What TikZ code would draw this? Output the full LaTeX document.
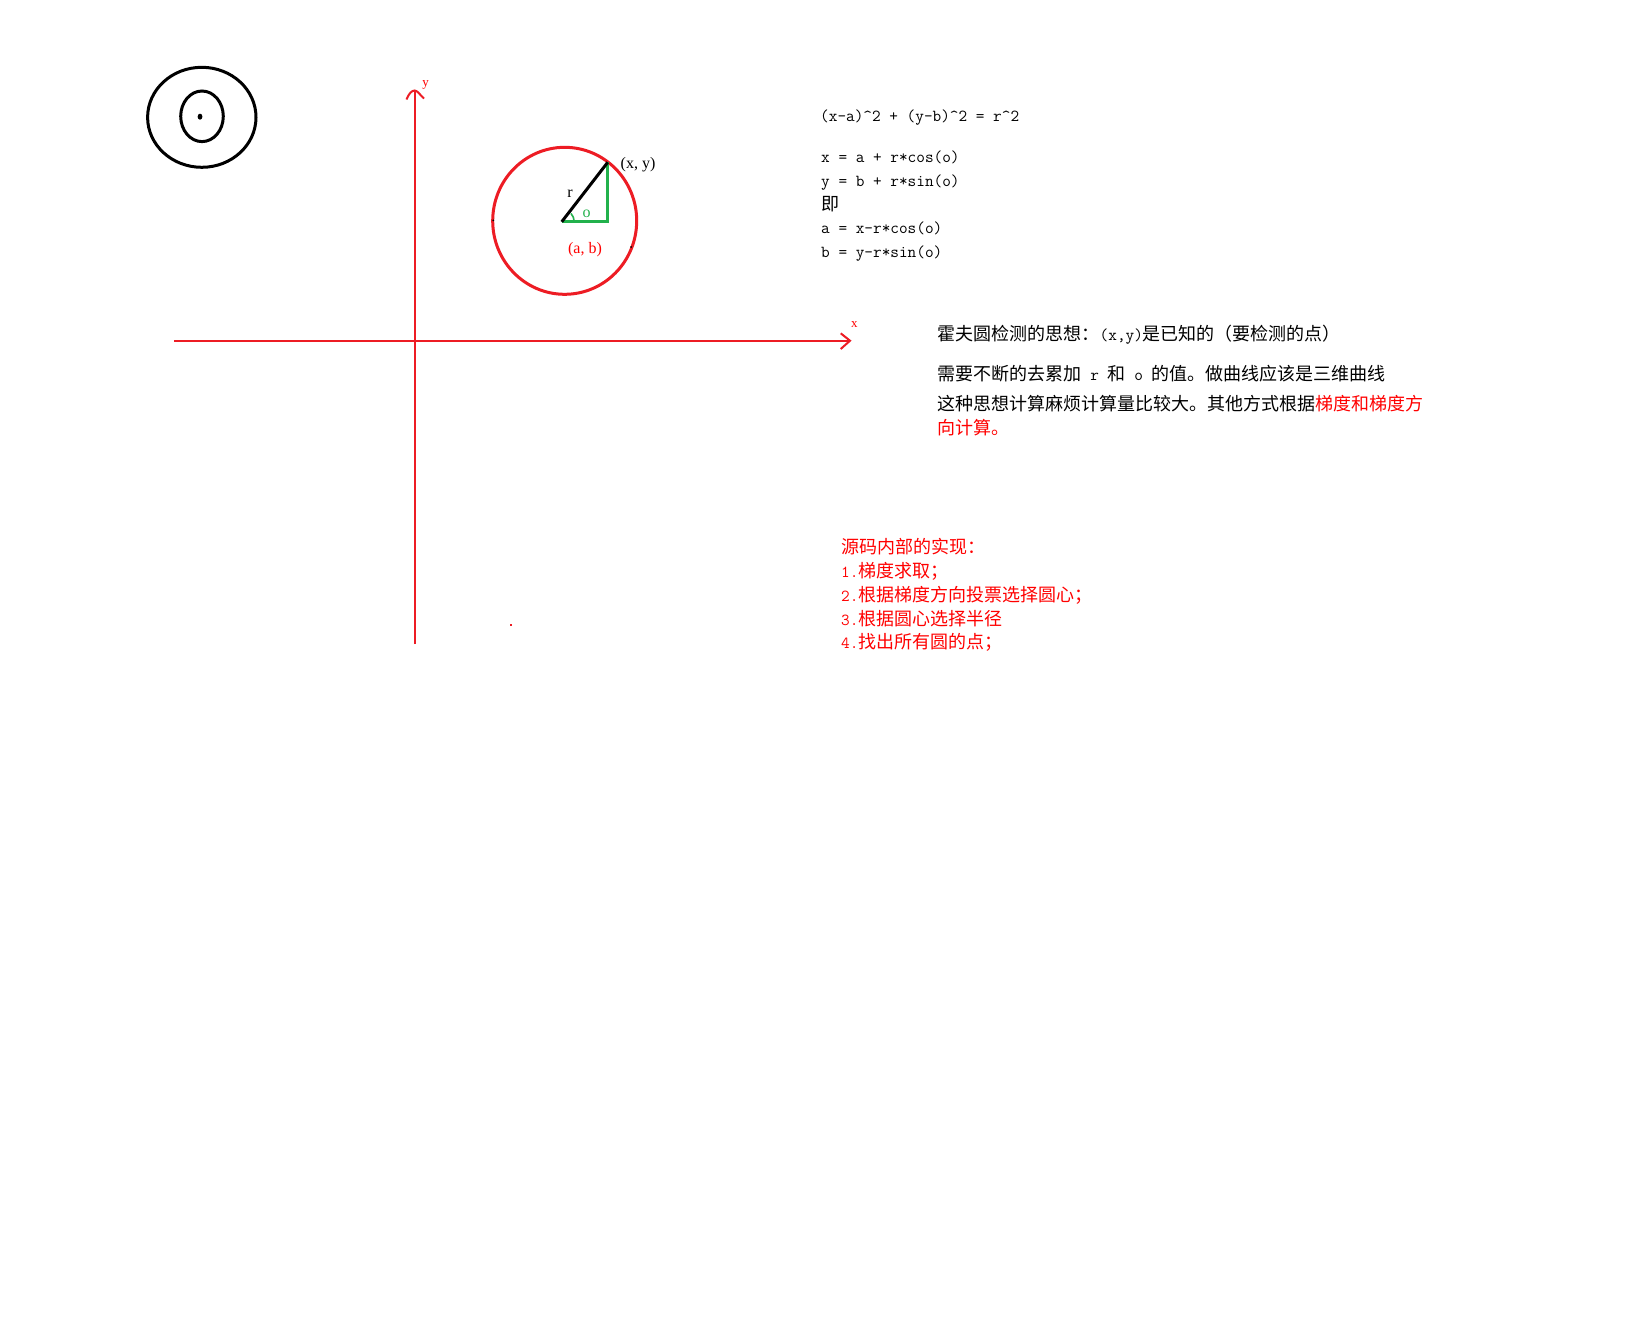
\documentclass[tikz,border=0pt]{standalone}
\usepackage{fontspec}
\newfontfamily\cjkfont{Noto Sans CJK SC}
\newfontfamily\myserif{Liberation Serif}
\newcommand{\asc}[1]{{\fontsize{16.8}{20}\selectfont\ttfamily #1}}
\definecolor{pred}{HTML}{ED1C24}
\definecolor{pgreen}{HTML}{22B14C}
\definecolor{tred}{HTML}{FF0000}
\tikzset{
  axisline/.style={draw=pred, line width=2pt},
  redcirc/.style={draw=pred, line width=3pt},
  blkline/.style={draw=black, line width=3pt},
  grnline/.style={draw=pgreen, line width=3pt, line join=miter},
  cjktxt/.style={anchor=base west, inner sep=0pt, font=\fontsize{18}{22}\selectfont\cjkfont},
  eqtxt/.style={anchor=base west, inner sep=0pt, font=\fontsize{16.8}{20}\selectfont\ttfamily},
  lbl/.style={inner sep=0pt, font=\fontsize{16}{18}\selectfont\myserif},
  axlbl/.style={inner sep=0pt, text=tred, font=\fontsize{13}{15}\selectfont\myserif},
}
\begin{document}
\begin{tikzpicture}[x=1pt,y=-1pt]
\useasboundingbox (0,0) rectangle (1633,1326);
\fill[white] (0,0) rectangle (1633,1326);

% concentric circles (top left)
\draw[blkline] (201.8,117.3) ellipse [x radius=54.2pt, y radius=50pt];
\draw[blkline] (202,116.3) ellipse [x radius=21.3pt, y radius=25.3pt];
\fill[black] (200,116.7) ellipse [x radius=2.4pt, y radius=3pt];

% axes
\coordinate (yb) at (414.7,644);
\coordinate (yt) at (414.7,90.5);
\coordinate (xl) at (174.3,340.7);
\coordinate (xr) at (850,340.7);
\draw[axisline] (yb) -- (yt);
\draw[axisline] (xl) -- (xr);
\draw[axisline] (406.5,99.5) .. controls (409,93) and (412,90.5) .. (yt) .. controls (417.5,90.5) and (420,95) .. (424,98.5);
\draw[axisline] (840.7,333.3) -- (xr) -- (840.7,349);
\node[axlbl] (ylab) at (425.7,85) {y};
\node[axlbl] (xlab) at (854.3,325) {x};

% red circle with triangle
\draw[redcirc] (564.7,220.8) ellipse [x radius=72pt, y radius=73.5pt];
\fill[black] (493.3,220.3) circle (1pt);
\fill[black] (631,247) circle (1pt);
\coordinate (ctr) at (561.7,221.8);
\coordinate (pt) at (607.7,162.3);
\coordinate (ft) at (607.7,221.8);
\draw[grnline] (ctr) -- (ft) -- (pt);
\draw[blkline] (ctr) -- (pt);
\draw[pgreen, line width=1.6pt] (574.2,221.8) arc[start angle=0, end angle=42, radius=12.5pt];
\node[lbl] (xy) at (638,165) {(x, y)};
\node[lbl, text=tred] (ab) at (585,249.3) {(a, b)};
\node[lbl] (rl) at (570,193.3) {r};
\node[lbl, text=pgreen] (ol) at (586.7,214) {o};

\fill[pred] (509.7,624) rectangle (511.7,626);

% formulas
\node[eqtxt] (eq) at (820,121.5) {(x-a)\textasciicircum 2 + (y-b)\textasciicircum 2 = r\textasciicircum 2};
\node[eqtxt] (f1) at (821,162.8) {x = a + r*cos(o)};
\node[eqtxt] (f2) at (821,186.5) {y = b + r*sin(o)};
\node[cjktxt] (f3) at (821,210.2) {即};
\node[eqtxt] (f4) at (821,233.9) {a = x-r*cos(o)};
\node[eqtxt] (f5) at (821,257.6) {b = y-r*sin(o)};

% explanation
\node[cjktxt] (t1) at (937.5,340.2) {霍夫圆检测的思想：\asc{(x,y)}是已知的（要检测的点）};
\node[cjktxt] (t2) at (937.5,380.7) {需要不断的去累加\asc{\ r\ }和\asc{\ o\ }的值。做曲线应该是三维曲线};
\node[cjktxt] (t3) at (937.5,410.2) {这种思想计算麻烦计算量比较大。其他方式根据\textcolor{tred}{梯度和梯度方}};
\node[cjktxt, text=tred] (t4) at (937.5,434) {向计算。};

% implementation
\node[cjktxt, text=tred] (s0) at (841,553) {源码内部的实现：};
\node[cjktxt, text=tred] (s1) at (841,577) {\asc{1.}梯度求取；};
\node[cjktxt, text=tred] (s2) at (841,601) {\asc{2.}根据梯度方向投票选择圆心；};
\node[cjktxt, text=tred] (s3) at (841,625) {\asc{3.}根据圆心选择半径};
\node[cjktxt, text=tred] (s4) at (841,648.6) {\asc{4.}找出所有圆的点；};
\end{tikzpicture}
\end{document}
